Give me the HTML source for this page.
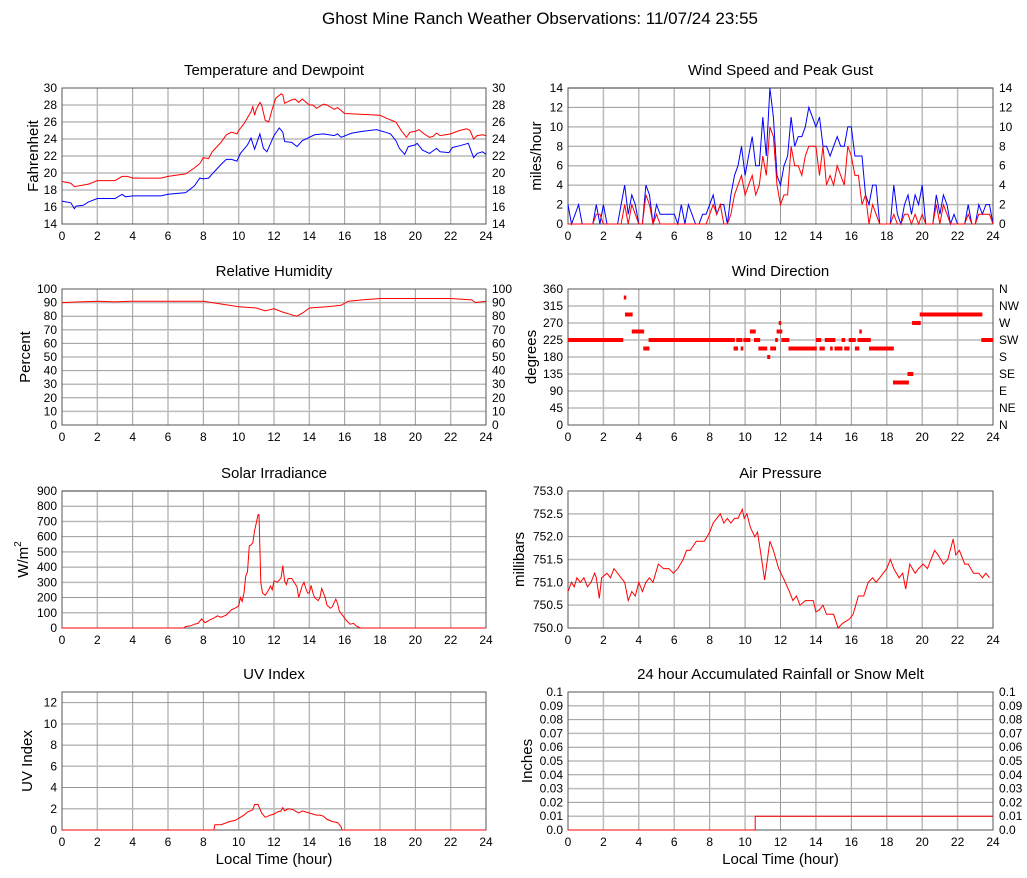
<!DOCTYPE html>
<html><head><meta charset="utf-8"><style>
body{margin:0;background:#fff}
svg{display:block;font-family:"Liberation Sans",sans-serif}
</style></head><body>
<svg id="c" width="1027" height="878" viewBox="0 0 1027 878">
<text x="540" y="24" text-anchor="middle" font-size="17">Ghost Mine Ranch Weather Observations: 11/07/24 23:55</text>
</svg>
<script>
// ---------- data ----------
const xTicks=[0,2,4,6,8,10,12,14,16,18,20,22,24];
const tempHours=[0,0.5,0.7,1.5,2,3,3.4,3.7,4,5,5.6,6,7,7.5,7.8,8,8.3,8.5,9,9.3,9.6,9.9,10,10.3,10.7,10.8,10.9,11,11.2,11.3,11.5,11.7,11.9,12.1,12.4,12.5,12.6,13,13.2,13.4,13.6,14,14.2,14.4,14.8,15,15.4,15.6,16,17,18,18.4,18.9,19.2,19.5,19.7,20,20.2,20.5,20.8,21,21.2,21.4,22,22.5,22.9,23.1,23.3,23.5,23.8,24];
const tempValues=[19.0,18.8,18.4,18.7,19.1,19.1,19.6,19.6,19.4,19.4,19.4,19.6,19.9,20.6,21.1,21.8,21.7,22.5,23.6,24.5,24.8,24.6,25.0,25.8,27.2,27.8,26.8,27.5,28.3,28.0,26.2,26.0,27.5,28.8,29.3,29.2,28.2,28.6,28.7,28.3,28.7,28.0,28.0,27.6,28.1,28.0,27.5,27.7,27.0,26.9,26.8,26.4,26.0,25.0,24.2,24.8,24.9,25.1,24.6,24.2,24.3,24.7,24.4,24.6,25.0,25.2,25.0,24.0,24.4,24.5,24.4];
const dewHours=[0,0.5,0.7,0.8,1.2,1.5,2,3,3.4,3.6,4,5,5.6,6,7,7.5,7.8,8,8.3,8.6,9,9.3,9.6,9.9,10.1,10.5,10.7,10.9,11.2,11.4,11.6,12,12.3,12.5,12.6,13,13.3,13.6,14,14.3,14.8,15.4,15.6,15.8,16.4,17,17.8,18.3,18.6,18.9,19.1,19.4,19.6,20,20.1,20.4,20.8,21.2,21.4,21.9,22.1,22.5,23,23.3,23.5,23.8,24];
const dewValues=[16.7,16.5,15.8,16.1,16.2,16.6,17.0,17.0,17.5,17.2,17.3,17.3,17.3,17.5,17.7,18.5,19.4,19.3,19.4,20.1,21.0,21.6,21.6,21.4,22.3,23.3,24.1,22.8,24.6,22.9,22.5,24.4,25.3,24.8,23.7,23.6,23.1,23.8,24.2,24.5,24.6,24.4,24.6,24.2,24.7,24.9,25.1,24.8,24.6,23.8,22.9,22.2,23.1,23.3,23.5,22.7,22.3,22.9,22.5,22.4,23.0,23.2,23.5,21.8,22.3,22.5,22.2];
const windHours=[0,0.2,0.4,0.6,0.8,1,1.2,1.4,1.6,1.8,2,2.2,2.4,2.6,2.8,3,3.2,3.4,3.6,3.8,4,4.2,4.4,4.6,4.8,5,5.2,5.4,5.6,5.8,6,6.2,6.4,6.6,6.8,7,7.2,7.4,7.6,7.8,8,8.2,8.4,8.6,8.8,9,9.2,9.4,9.6,9.8,10,10.2,10.4,10.6,10.8,11,11.2,11.4,11.6,11.8,12,12.2,12.4,12.6,12.8,13,13.2,13.4,13.6,13.8,14,14.2,14.4,14.6,14.8,15,15.2,15.4,15.6,15.8,16,16.2,16.4,16.6,16.8,17,17.2,17.4,17.6,17.8,18,18.2,18.4,18.6,18.8,19,19.2,19.4,19.6,19.8,20,20.2,20.4,20.6,20.8,21,21.2,21.4,21.6,21.8,22,22.2,22.4,22.6,22.8,23,23.2,23.4,23.6,23.8,24];
const gustValues=[2,0,1,2,0,0,0,0,2,0,2,0,0,0,0,2,4,1,3,2,0,0,4,3,0,2,1,1,1,1,1,0,2,0,2,1,0,0,1,1,2,3,1,2,2,0,3,5,6,8,5,7,9,6,6,11,7,14,11,5,4,6,7,11,8,9,9,10,12,11,10,11,8,8,7,8,9,8,8,10,10,7,7,7,3,2,4,4,0,0,0,0,4,1,0,2,3,1,3,2,4,0,0,0,3,1,3,2,0,1,0,0,0,2,0,0,2,1,2,2,0];
const speedValues=[0,0,0,0,0,0,0,0,1,1,0,0,0,0,0,0,2,0,2,1,0,0,3,2,0,1,0,0,0,0,0,0,0,0,0,0,0,0,0,0,1,2,1,2,0,0,1,3,4,5,3,4,5,3,4,7,5,10,9,4,2,3,3,8,6,6,5,7,8,8,8,5,8,4,5,4,6,5,4,8,7,5,5,2,3,0,2,1,0,0,0,0,1,0,0,1,1,0,1,0,1,0,0,0,2,0,2,1,0,0,0,0,0,1,0,0,1,1,1,1,0];
const rhHours=[0,1,2,3,4,6,8,9,10,11,11.5,12,12.5,13,13.3,13.7,14,15,15.8,16.2,17,18,20,22,23.2,23.4,24];
const rhValues=[90,90.5,91,90.5,91,91,91,89,87,86,84,85.5,83,81,80,83,86,87,88,91,92,93,93,93,92,90,91];
const dirStart=[0,3.15,3.22,3.6,4.25,4.55,9.35,9.5,9.75,9.9,10.27,10.5,10.75,11.25,11.42,11.7,11.78,11.9,12.05,12.45,14.0,14.2,14.5,14.8,15.05,15.45,15.6,15.85,16.2,16.35,16.45,17.0,18.35,19.17,19.43,19.86,23.34];
const dirEnd=[3.12,3.25,3.65,4.3,4.6,9.42,9.6,9.85,9.9,10.3,10.6,10.85,11.25,11.42,11.75,11.85,12.1,12.0,12.5,14.05,14.3,14.5,15.1,14.95,15.5,15.65,15.9,16.25,16.45,17.1,16.55,18.4,19.25,19.5,19.92,23.4,24];
const dirDegs=[225,337.5,292.5,247.5,202.5,225,202.5,225,202.5,225,247.5,225,202.5,180,202.5,225,247.5,270,225,202.5,225,202.5,225,202.5,202.5,225,202.5,225,202.5,225,247.5,202.5,112.5,135,270,292.5,225];
const solarHours=[0,6.9,7.0,7.3,7.5,7.7,7.9,8.1,8.4,8.6,8.8,9.0,9.3,9.6,9.8,10.0,10.1,10.2,10.3,10.4,10.5,10.6,10.7,10.8,10.9,11.0,11.1,11.15,11.25,11.35,11.5,11.7,11.8,11.9,12.0,12.2,12.4,12.5,12.6,12.7,12.8,13.0,13.2,13.3,13.4,13.5,13.6,13.7,13.8,13.9,14.0,14.1,14.2,14.3,14.5,14.6,14.7,14.9,15.0,15.2,15.3,15.5,15.6,15.7,15.9,16.1,16.3,16.5,16.7,16.9,24];
const solarValues=[0,0,10,15,25,30,60,35,55,65,80,70,85,120,130,145,200,175,230,340,370,540,545,560,640,690,745,745,300,230,215,250,275,250,310,300,330,410,310,285,325,325,290,270,200,240,280,300,260,230,230,280,230,200,180,200,260,200,150,130,140,190,160,110,80,50,25,30,10,0,0];
const presHours=[0,0.2,0.35,0.5,0.7,0.9,1.1,1.3,1.5,1.6,1.77,1.9,2.2,2.4,2.6,3.0,3.2,3.4,3.6,3.8,4.0,4.2,4.4,4.6,4.8,5.1,5.4,5.7,5.95,6.2,6.5,6.7,6.9,7.25,7.5,7.7,8.0,8.2,8.6,8.8,9.0,9.2,9.4,9.6,9.84,9.95,10.1,10.3,10.55,10.7,10.9,11.1,11.4,11.6,11.9,12.15,12.5,12.7,12.9,13.1,13.4,13.6,13.85,14.0,14.2,14.4,14.6,15.0,15.25,15.5,15.9,16.1,16.4,16.7,16.95,17.2,17.4,17.6,18.0,18.2,18.4,18.7,18.9,19.07,19.3,19.6,19.8,20.05,20.3,20.5,20.7,20.9,21.2,21.45,21.75,21.9,22.1,22.4,22.6,22.9,23.2,23.4,23.6,23.8];
const presValues=[750.8,751.0,750.9,751.1,751.0,751.1,750.9,751.0,751.2,751.1,750.65,751.1,751.2,751.1,751.3,751.1,751.0,750.6,750.8,750.7,751.0,750.8,751.0,751.1,751.0,751.4,751.3,751.3,751.2,751.3,751.5,751.7,751.7,751.9,751.9,751.9,752.1,752.3,752.5,752.3,752.4,752.3,752.4,752.4,752.6,752.4,752.5,752.2,752.0,752.1,751.6,751.05,751.9,751.7,751.3,751.1,750.8,750.6,750.7,750.5,750.6,750.6,750.6,750.35,750.4,750.5,750.3,750.3,750.0,750.1,750.2,750.3,750.7,750.7,751.0,751.1,751.0,751.1,751.3,751.5,751.3,751.1,751.2,750.85,751.4,751.2,751.3,751.4,751.3,751.5,751.7,751.6,751.4,751.5,751.95,751.6,751.7,751.4,751.4,751.2,751.2,751.1,751.2,751.1];
const uvHours=[0,8.6,8.65,9.0,9.5,9.8,10.0,10.3,10.5,10.8,10.9,11.1,11.3,11.5,11.8,12.0,12.2,12.4,12.5,12.6,12.8,13.1,13.4,13.6,14.0,14.4,14.6,14.8,15.0,15.3,15.6,15.8,15.85,24];
const uvValues=[0,0,0.5,0.5,0.8,0.9,1.1,1.4,1.7,1.9,2.4,2.4,1.6,1.2,1.4,1.5,1.7,1.8,2.1,1.8,2.0,1.9,1.6,1.8,1.6,1.4,1.4,1.3,1.0,0.8,0.7,0.3,0,0];
const rainHours=[0,10.57,10.57,24];
const rainValues=[0,0,0.01,0.01];
const tempTicks=[14,16,18,20,22,24,26,28,30];
const windTicks=[0,2,4,6,8,10,12,14];
const rhTicks=[0,10,20,30,40,50,60,70,80,90,100];
const dirTicks=[0,45,90,135,180,225,270,315,360];
const dirNames=["N","NE","E","SE","S","SW","W","NW","N"];
const solarTicks=[0,100,200,300,400,500,600,700,800,900];
const presTicks=[750.0,750.5,751.0,751.5,752.0,752.5,753.0];
const uvTicks=[0,2,4,6,8,10,12];
const rainTicks=[0,0.01,0.02,0.03,0.04,0.05,0.06,0.07,0.08,0.09,0.1];

// ---------- drawing ----------
const svg=document.getElementById('c');
const NS='http://www.w3.org/2000/svg';
function mk(tag,attrs,parent){const e=document.createElementNS(NS,tag);for(const k in attrs)e.setAttribute(k,attrs[k]);(parent||svg).appendChild(e);return e;}
function panel(name,x0,y0,x1,y1,ymin,ymax,ticks,fmt,title,ylabel,rightLabels,xlabel,ylOff){
  const g=mk('g',{});
  
  
  const sx=h=>x0+(h/24)*(x1-x0);
  const sy=v=>y1-(v-ymin)/(ymax-ymin)*(y1-y0);
  const t=mk('text',{x:(x0+x1)/2,y:y0-13,'text-anchor':'middle','font-size':15},g);
  t.textContent=title;
  
  
  xTicks.forEach(h=>{
    const l=mk('line',{x1:sx(h),x2:sx(h),y1:y0,y2:y1,stroke:(h%4==0?'#999':'#bbb'),'stroke-width':(h%4==0?1:1.5)},g);
    
    
    const tx=mk('text',{x:sx(h),y:y1+16,'text-anchor':'middle','font-size':12},g);
    tx.textContent=h;
    
    
  });
  ticks.forEach((v,i)=>{
    const l=mk('line',{x1:x0,x2:x1,y1:sy(v),y2:sy(v),stroke:(i%2==0?'#999':'#bbb'),'stroke-width':(i%2==0?1:1.5)},g);
    
    
    const ty=mk('text',{x:x0-5,y:sy(v)+4,'text-anchor':'end','font-size':12},g);
    ty.textContent=fmt(v);
    
    
    if(rightLabels){
      const tr=mk('text',{x:x1+6,y:sy(v)+4,'text-anchor':'start','font-size':12},g);
      tr.textContent=rightLabels[i];
      
      
    }
  });
  const b=mk('rect',{x:x0,y:y0,width:x1-x0,height:y1-y0,fill:'none',stroke:'#555'},g);
  
  
  const yl=mk('text',{x:0,y:0,'text-anchor':'middle','font-size':15,transform:`translate(${x0-ylOff},${(y0+y1)/2}) rotate(-90)`},g);
  yl.innerHTML=ylabel;
  
  
  if(xlabel){
    const xl=mk('text',{x:(x0+x1)/2,y:y1+34,'text-anchor':'middle','font-size':15},g);
    xl.textContent=xlabel;
    
    
  }
  return {g,sx,sy};
}
function line(p,hours,vals,color,name){
  const pts=hours.map((h,i)=>p.sx(h).toFixed(1)+','+p.sy(vals[i]).toFixed(1)).join(' ');
  const l=mk('polyline',{points:pts,fill:'none',stroke:color,'stroke-width':1},p.g);
  
  
}
const f0=v=>String(v), f1=v=>v.toFixed(1), f2=v=>(v==0?'0.0':(v==0.1?'0.1':v.toFixed(2)));

const pT=panel('temperature',62,88,486,224,14,30,tempTicks,f0,'Temperature and Dewpoint','Fahrenheit',tempTicks.map(String),null,24);
line(pT,dewHours,dewValues,'#00f','dewpoint-line');
line(pT,tempHours,tempValues,'#f00','temperature-line');

const pW=panel('wind-speed',568,88,993,224,0,14,windTicks,f0,'Wind Speed and Peak Gust','miles/hour',windTicks.map(String),null,27);
line(pW,windHours,gustValues,'#00f','peak-gust-line');
line(pW,windHours,speedValues,'#f00','wind-speed-line');

const pR=panel('humidity',62,289,486,425,0,100,rhTicks,f0,'Relative Humidity','Percent',rhTicks.map(String),null,32);
line(pR,rhHours,rhValues,'#f00','humidity-line');

const pD=panel('wind-direction',568,289,993,425,0,360,dirTicks,f0,'Wind Direction','degrees',dirNames,null,32);
dirDegs.forEach((d,i)=>{
  const x=pD.sx(dirStart[i]), w=Math.max(pD.sx(dirEnd[i])-x,2.5);
  const r=mk('rect',{x:x,y:pD.sy(d)-2,width:w,height:4,fill:'#f00'},pD.g);
  
  
});

const pS=panel('solar',62,491,486,628,0,900,solarTicks,f0,'Solar Irradiance','W/m<tspan dy="-7" font-size="10">2</tspan>',null,null,34);
line(pS,solarHours,solarValues,'#f00','solar-line');

const pP=panel('pressure',568,491,993,628,750,753,presTicks,f1,'Air Pressure','millibars',null,null,44);
line(pP,presHours,presValues,'#f00','pressure-line');

const pU=panel('uv',62,692,486,830,0,13,uvTicks,f0,'UV Index','UV Index',null,'Local Time (hour)',30);
line(pU,uvHours,uvValues,'#f00','uv-line');

const pRn=panel('rainfall',568,692,993,830,0,0.1,rainTicks,f2,'24 hour Accumulated Rainfall or Snow Melt','Inches',rainTicks.map(f2),'Local Time (hour)',36);
line(pRn,rainHours,rainValues,'#f00','rainfall-line');
</script>
</body></html>
